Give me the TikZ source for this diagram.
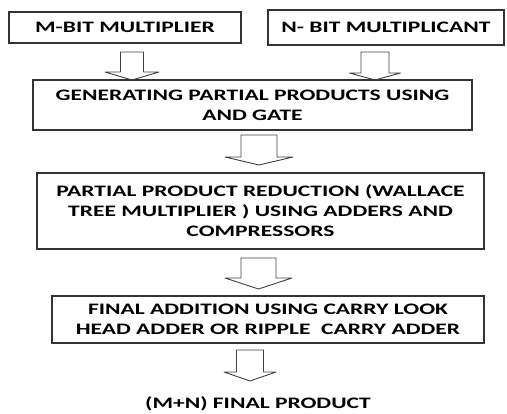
\documentclass[tikz,border=0pt]{standalone}
\usepackage{fontspec}
\setmainfont{Carlito}[FakeStretch=1.47]

% hollow down arrow: x, top, head top, tip, half shaft, half head
\newcommand{\hollowdown}[6]{%
  \draw[hollow] (#1-#5,#2) -- (#1+#5,#2) -- (#1+#5,#3) -- (#1+#6,#3) -- (#1,#4)
    -- (#1-#6,#3) -- (#1-#5,#3) -- cycle;}

\begin{document}
\begin{tikzpicture}[x=1pt,y=-1pt]
  \tikzset{
    block/.style={draw=black!80, line width=1.3pt, align=center, inner sep=0pt,
      font=\bfseries\fontsize{16}{20}\selectfont},
    hollow/.style={draw=black!75, line width=0.9pt, line join=round}
  }
  \useasboundingbox (0,0) rectangle (507,414);

  % inputs
  \node[block, minimum width=232pt, minimum height=31pt] (mult) at (125,27.5) {M-BIT MULTIPLIER};
  \node[block, minimum width=236pt, minimum height=35pt] (mcand) at (386,27.5) {N- BIT MULTIPLICANT};

  % steps
  \node[block, minimum width=439pt, minimum height=50pt] (gen) at (252.5,105) {GENERATING PARTIAL PRODUCTS USING\\AND GATE};
  \node[block, minimum width=447pt, minimum height=76pt] (red) at (260.5,211) {PARTIAL PRODUCT REDUCTION (WALLACE\\TREE MULTIPLIER ) USING ADDERS AND\\COMPRESSORS};
  \node[block, minimum width=432pt, minimum height=47pt] (fin) at (268,319.5) {FINAL ADDITION USING CARRY LOOK\\HEAD ADDER OR RIPPLE \ CARRY ADDER};
  \node[font=\bfseries\fontsize{16}{20}\selectfont, inner sep=0pt] (prod) at (258,403.5) {(M+N) FINAL PRODUCT};

  % hollow arrows
  \hollowdown{132}{52}{72}{80}{11.5}{27}
  \hollowdown{375}{52}{73}{80}{14}{25.5}
  \hollowdown{259}{135}{157}{165}{18}{34}
  \hollowdown{258.5}{258}{278}{289}{17.5}{33.5}
  \hollowdown{250}{350}{372}{381}{13.5}{26}
\end{tikzpicture}
\end{document}
